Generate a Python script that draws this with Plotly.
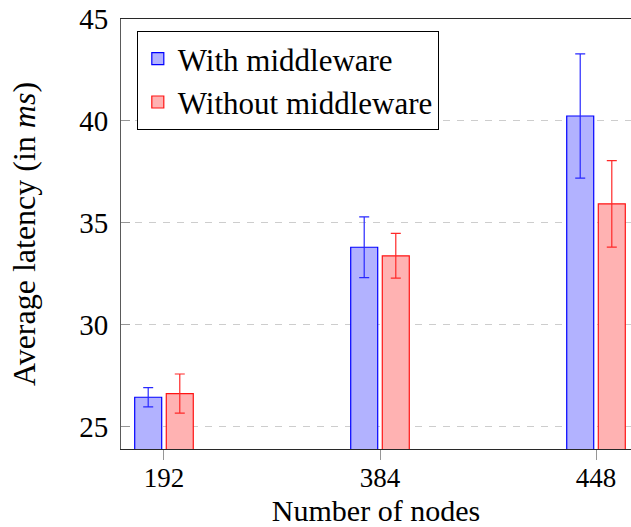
import plotly.graph_objects as go

# Node counts (categorical x axis)
nodes = ["192", "384", "448"]

# Average latency in ms and symmetric error (half-range)
with_mw = [26.44, 33.80, 40.24]
with_mw_err = [0.47, 1.49, 3.05]
without_mw = [26.62, 33.38, 35.93]
without_mw_err = [0.96, 1.10, 2.12]

y_ticks = [25, 30, 35, 40, 45]

FONT = "Liberation Serif"
BAR_W = 0.125

fig = go.Figure()
fig.add_trace(go.Bar(
    name="With middleware", x=nodes, y=with_mw,
    width=BAR_W, offset=-0.1356,
    marker=dict(color="rgb(178,178,255)", line=dict(color="rgb(0,0,255)", width=1.2)),
    error_y=dict(type="data", array=with_mw_err, color="rgb(40,40,255)",
                 thickness=1.2, width=5),
))
fig.add_trace(go.Bar(
    name="Without middleware", x=nodes, y=without_mw,
    width=BAR_W, offset=0.0106,
    marker=dict(color="rgb(255,178,178)", line=dict(color="rgb(255,20,20)", width=1.2)),
    error_y=dict(type="data", array=without_mw_err, color="rgb(255,40,40)",
                 thickness=1.2, width=5),
))

fig.update_layout(
    width=631, height=527,
    margin=dict(l=121, r=0, t=19, b=78),
    paper_bgcolor="white", plot_bgcolor="white",
    font=dict(family=FONT, size=29, color="black"),
    barmode="overlay",
    showlegend=True,
    legend=dict(
        x=0.031, y=0.972, xanchor="left", yanchor="top",
        bgcolor="white", bordercolor="black", borderwidth=1,
        font=dict(family=FONT, size=31, color="black"),
        tracegroupgap=0, itemwidth=30,
    ),
)

fig.update_xaxes(
    type="category", range=[-0.199, 2.162],
    showline=True, linecolor="rgb(40,40,40)", linewidth=1, mirror=True,
    ticks="outside", ticklen=10, tickcolor="rgb(150,150,150)", tickwidth=1,
    showgrid=False, zeroline=False, ticklabelstandoff=-5,
    tickfont=dict(family=FONT, size=27),
    title=dict(text="Number of nodes", font=dict(family=FONT, size=30), standoff=13),
)
fig.update_yaxes(
    range=[23.9, 45], tickvals=y_ticks,
    showline=True, linecolor="rgb(90,90,90)", linewidth=1, mirror=False,
    ticks="inside", ticklen=9, tickcolor="rgb(150,150,150)", tickwidth=1,
    showgrid=True, gridcolor="rgb(205,205,205)", gridwidth=1, griddash="7px,7px",
    zeroline=False, ticklabelstandoff=6,
    tickfont=dict(family=FONT, size=29),
    title=dict(text="Average latency (in <i>ms</i>)", font=dict(family=FONT, size=32), standoff=34),
)

fig.write_html("out.html")
